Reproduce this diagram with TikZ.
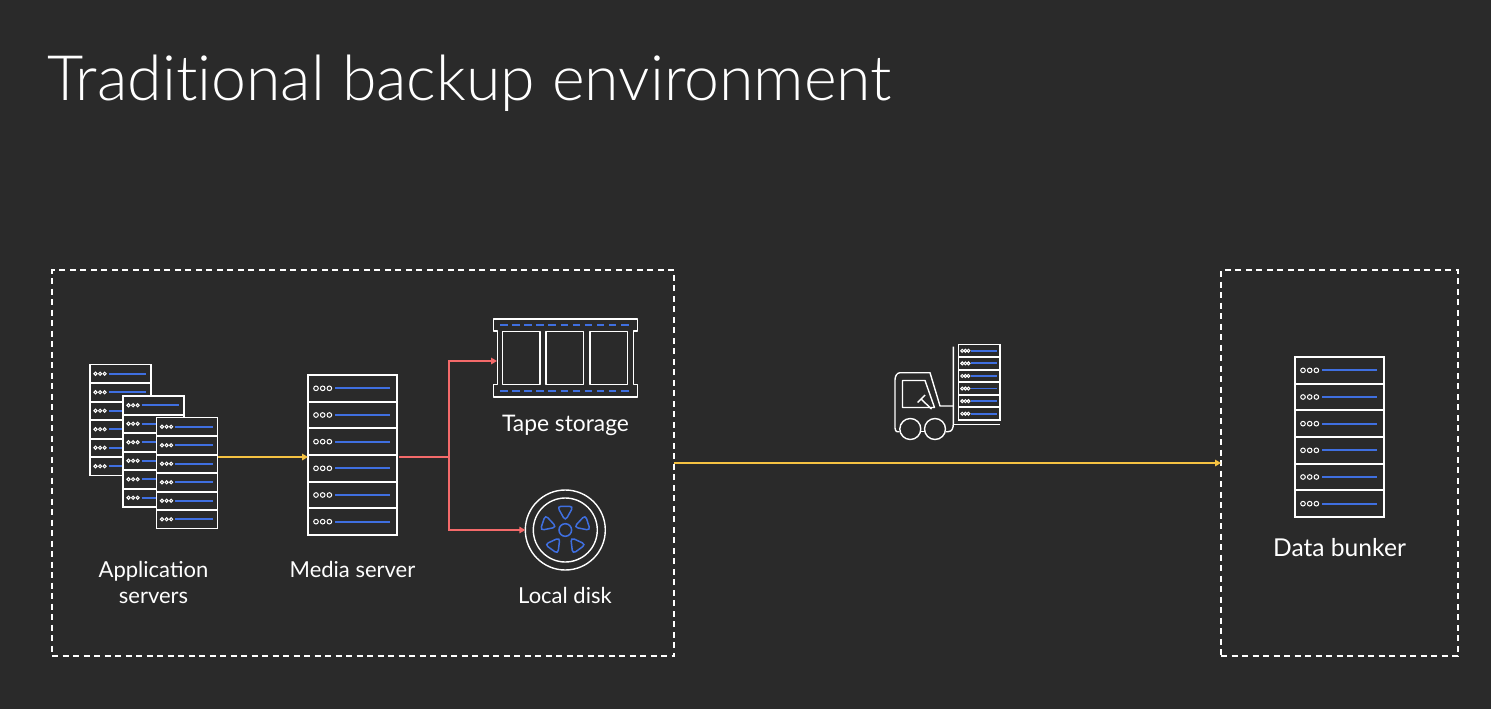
\documentclass[tikz,border=0pt]{standalone}
\usepackage{fontspec}
\setmainfont{Lato}
\newfontfamily\titlefont[Ligatures=NoCommon]{Lato Light}
\usetikzlibrary{arrows.meta}
\definecolor{bgc}{HTML}{2A2A2A}
\definecolor{bluec}{HTML}{3F6FE0}
\definecolor{redc}{HTML}{F46A6A}
\definecolor{yelc}{HTML}{F5C242}
\tikzset{
  x=1pt,y=-1pt,
  rackbox/.style={draw=white,fill=bgc,line width=1.4pt,inner sep=0pt,outer sep=0pt,minimum width=#1},
  rowline/.style={draw=white,line width=2pt},
  slotline/.style={draw=bluec,line width=1.8pt},
  dotring/.style={draw=white,line width=1pt,fill=bgc},
  iconline/.style={draw=white,line width=1.4pt,line join=round},
  blueline/.style={draw=bluec,line width=1.5pt},
  dashbox/.style={draw=white,line width=1.7pt,dash pattern=on 6pt off 4.5pt,inner sep=0pt,outer sep=0pt},
  label/.style={text=white,font=\fontsize{22}{26}\selectfont,align=center,inner sep=0pt},
  yelarrow/.style={draw=yelc,line width=2pt,-{Triangle[length=6pt,width=6.5pt]}},
  redarrow/.style={draw=redc,line width=2.5pt,-{Triangle[length=6pt,width=6.5pt]}},
  redwire/.style={draw=redc,line width=2.5pt},
}
% name, left, top, width, height
\newcommand{\rackicon}[5]{%
  \node[rackbox=#4,minimum height=#5,anchor=north west] (#1) at (#2,#3) {};
  \foreach \i in {0,...,5}{
    \pgfmathsetmacro{\yy}{#3+(\i+0.5)*#5/6}
    \pgfmathsetmacro{\dr}{max(#4*0.026,1.5)}
    \foreach \f in {0.09,0.165,0.24}{
      \draw[dotring] ({#2+\f*#4},\yy) circle[radius=\dr];
    }
    \draw[slotline] ({#2+0.305*#4},\yy) -- ({#2+0.92*#4},\yy);
    \ifnum\i>0
      \pgfmathsetmacro{\ys}{#3+\i*#5/6}
      \draw[rowline] (#2,\ys) -- ({#2+#4},\ys);
    \fi
  }
}
\newcommand{\blob}[1]{%
  \draw[blueline,rounded corners=3.8pt,rotate around={#1:(565.3,530)}]
    (557.2,506.3) -- (573.4,506.3) -- (565.3,520.8) -- cycle;
}
\begin{document}
\begin{tikzpicture}
\useasboundingbox[fill=bgc] (0,0) rectangle (1491,709);
\node[text=white,anchor=base west,inner sep=0pt,font=\titlefont\fontsize{62.6}{70}\selectfont] (title) at (47,100) {Traditional backup environment};

\node[dashbox,minimum width=622pt,minimum height=386pt,anchor=north west] (site) at (52,270) {};
\node[dashbox,minimum width=237pt,minimum height=386pt,anchor=north west] (bunkerbox) at (1221,270) {};

\rackicon{app1}{90}{364.5}{61}{111}
\rackicon{app2}{123}{396}{61}{111}
\rackicon{app3}{156.5}{417.5}{61}{111}
\rackicon{media}{308}{375}{89}{160}
\rackicon{bunker}{1295}{357}{89}{160}
\rackicon{liftrack}{958.5}{344.5}{41.5}{75.5}

% tape
\coordinate (tape) at (497,361);
\draw[iconline] (493.5,319) -- (637.5,319) -- (637.5,331) -- (633.5,331) -- (633.5,384.5) -- (637.5,384.5) -- (637.5,397) -- (493.5,397) -- (493.5,384.5) -- (497.5,384.5) -- (497.5,331) -- (493.5,331) -- cycle;
\draw[iconline] (502.5,331.5) rectangle (540,384.5);
\draw[iconline] (546,331.5) rectangle (583.5,384.5);
\draw[iconline] (590,331.5) rectangle (627.5,384.5);
\draw[blueline,dash pattern=on 7.5pt off 4.6pt] (500,325) -- (632,325);
\draw[blueline,dash pattern=on 7.5pt off 4.6pt] (500,391) -- (632,391);

% disk
\node[circle,draw=white,line width=1.4pt,minimum size=80pt,inner sep=0pt,outer sep=0pt] (disk) at (565.3,530) {};
\draw[iconline] (565.3,530) circle[radius=32];
\draw[blueline] (565.3,530) circle[radius=6.3];
\foreach \a in {0,72,144,216,288}{\blob{\a}}

% forklift
\draw[iconline] (953.3,346.5) -- (953.3,424) .. controls (953.3,428) and (952,431.7) .. (948,431.7) -- (946,431.7);
\draw[iconline] (953.3,424.3) -- (1000,424.3);
\draw[iconline] (899.5,431.7) -- (897,431.7) .. controls (896,431.7) and (895,430) .. (895,428) -- (895,380) .. controls (895,376) and (897,372.7) .. (900,372.7) -- (930,372.7) -- (940,406) -- (953.3,406);
\draw[iconline] (902.5,380.5) -- (925,380.5) -- (934.5,407.5) -- (902.5,407.5) -- cycle;
\draw[iconline] (917.5,402.5) -- (925,395);
\draw[iconline] (921,399) -- (931.5,409);
\draw[iconline] (910.3,429) circle[radius=10.5];
\draw[iconline] (935,429) circle[radius=10.5];
\draw[iconline] (920.8,431.7) -- (924.5,431.7);

% connectors
\coordinate (junction) at (449,457);
\draw[yelarrow] (app3.east |- 0,457) -- (media.west |- 0,457);
\draw[redwire] (media.east |- junction) ++(2,0) -- (junction);
\draw[redarrow] (junction) |- (tape);
\draw[redarrow] (junction) |- (disk.west);
\draw[yelarrow] (site.east |- 0,463) -- (bunkerbox.west |- 0,463);

% labels
\node[label] (lapp) at (153.5,582.5) {Application\\servers};
\node[label] (lmedia) at (352.5,569.5) {Media server};
\node[label,font=\fontsize{22.8}{26}\selectfont] (ltape) at (565.5,425) {Tape storage};
\node[label] (ldisk) at (565,595.5) {Local disk};
\node[label,font=\fontsize{24.6}{27}\selectfont] (lbunker) at (1339.5,548) {Data bunker};
\end{tikzpicture}
\end{document}
